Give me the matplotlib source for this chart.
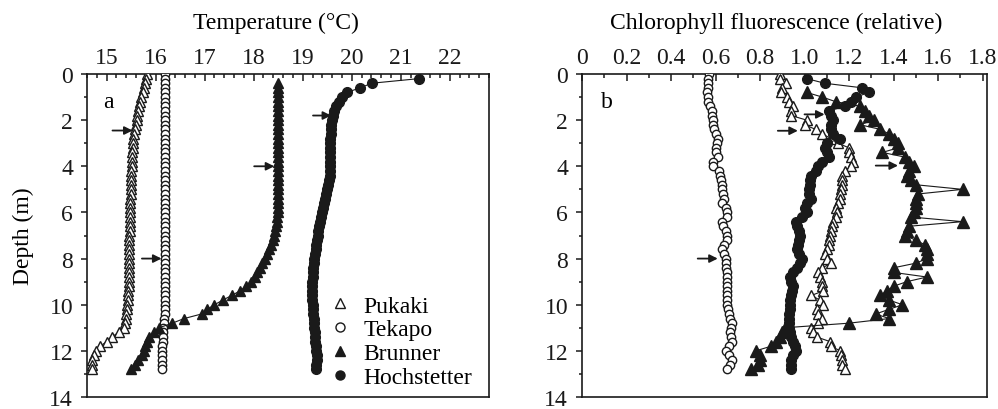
import matplotlib
matplotlib.use('Agg')
import matplotlib.pyplot as plt
import numpy as np
from matplotlib.lines import Line2D
from matplotlib.ticker import MultipleLocator, FixedLocator, FixedFormatter

plt.rcParams['font.family'] = ['Liberation Serif', 'DejaVu Serif']
plt.rcParams['font.size'] = 17

nan = np.nan
INK = '#1a1a1a'

# depth of each sample (m), shared by every profile
DEPTH = [0.0, 0.2, 0.4, 0.6, 0.8, 1.0, 1.2, 1.4, 1.6, 1.8,
         2.0, 2.2, 2.4, 2.6, 2.8, 3.0, 3.2, 3.4, 3.6, 3.8,
         4.0, 4.2, 4.4, 4.6, 4.8, 5.0, 5.2, 5.4, 5.6, 5.8,
         6.0, 6.2, 6.4, 6.6, 6.8, 7.0, 7.2, 7.4, 7.6, 7.8,
         8.0, 8.2, 8.4, 8.6, 8.8, 9.0, 9.2, 9.4, 9.6, 9.8,
         10.0, 10.2, 10.4, 10.6, 10.8, 11.0, 11.2, 11.4, 11.6, 11.8,
         12.0, 12.2, 12.4, 12.6, 12.8]

LAKES = ['Pukaki', 'Tekapo', 'Brunner', 'Hochstetter']

# ---- panel a: temperature (°C)
temp_pukaki = [15.83, 15.81, 15.79, 15.76, 15.74, 15.71, 15.69, 15.67, 15.65, 15.63,
               15.61, 15.59, 15.57, 15.55, 15.54, 15.53, 15.53, 15.52, 15.52, 15.51,
               15.51, 15.50, 15.50, 15.50, 15.49, 15.49, 15.49, 15.48, 15.48, 15.48,
               15.48, 15.47, 15.47, 15.47, 15.47, 15.46, 15.46, 15.46, 15.45, 15.45,
               15.46, 15.46, 15.46, 15.45, 15.45, 15.45, 15.45, 15.44, 15.44, 15.43,
               15.42, 15.41, 15.40, 15.39, 15.37, 15.35, 15.25, 15.10, 15.00, 14.87,
               14.78, 14.74, 14.71, 14.70, 14.70]
temp_tekapo = [16.20, 16.19, 16.19, 16.19, 16.19, 16.19, 16.19, 16.19, 16.19, 16.19,
               16.19, 16.19, 16.19, 16.19, 16.19, 16.19, 16.19, 16.19, 16.19, 16.19,
               16.19, 16.19, 16.19, 16.19, 16.19, 16.19, 16.19, 16.19, 16.19, 16.19,
               16.19, 16.19, 16.19, 16.19, 16.19, 16.19, 16.19, 16.19, 16.19, 16.19,
               16.19, 16.19, 16.19, 16.19, 16.19, 16.19, 16.19, 16.19, 16.19, 16.19,
               16.19, 16.19, 16.19, 16.18, 16.17, 16.16, 16.16, 16.15, 16.15, 16.14,
               16.14, 16.13, 16.13, 16.12, 16.12]
temp_brunner = [nan, nan, 18.50, 18.50, 18.50, 18.50, 18.50, 18.50, 18.50, 18.50,
                18.50, 18.50, 18.50, 18.50, 18.50, 18.50, 18.50, 18.50, 18.50, 18.50,
                18.50, 18.50, 18.50, 18.50, 18.50, 18.50, 18.50, 18.50, 18.49, 18.49,
                18.49, 18.48, 18.47, 18.46, 18.44, 18.42, 18.39, 18.36, 18.32, 18.28,
                18.23, 18.17, 18.12, 18.07, 18.02, 17.94, 17.85, 17.72, 17.55, 17.37,
                17.20, 17.05, 16.94, 16.58, 16.34, 16.07, 15.96, 15.87, 15.82, 15.79,
                15.76, 15.72, 15.65, 15.58, 15.50]
temp_hochstetter = [nan, 21.37, 20.41, 20.17, 19.90, 19.80, 19.74, 19.68, 19.64, 19.61,
                    19.59, 19.58, 19.57, 19.57, 19.56, 19.56, 19.56, 19.56, 19.56, 19.55,
                    19.55, 19.55, 19.55, 19.53, 19.52, 19.50, 19.48, 19.46, 19.44, 19.42,
                    19.40, 19.38, 19.36, 19.34, 19.32, 19.31, 19.30, 19.28, 19.27, 19.25,
                    19.24, 19.23, 19.22, 19.21, 19.20, 19.19, 19.18, 19.18, 19.18, 19.19,
                    19.20, 19.21, 19.22, 19.23, 19.24, 19.24, 19.25, 19.25, 19.26, 19.27,
                    19.28, 19.29, 19.29, 19.28, 19.27]

# ---- panel b: chlorophyll fluorescence (relative)
chl_pukaki = [0.89, 0.89, 0.915, 0.90, 0.895, 0.92, 0.93, 0.95, 0.94, 0.94,
              1.01, 1.00, 1.05, 1.08, 1.12, 1.15, 1.20, 1.20, 1.21, 1.22,
              1.21, 1.18, 1.17, 1.17, 1.17, 1.165, 1.16, 1.16, 1.15, 1.14,
              1.145, 1.14, 1.13, 1.125, 1.12, 1.115, 1.11, 1.11, 1.10, 1.09,
              1.10, 1.12, 1.08, 1.06, 1.07, 1.08, 1.08, 1.085, 1.03, 1.07,
              1.085, 1.055, 1.06, 1.08, 1.06, 1.03, 1.04, 1.055, 1.115, 1.12,
              1.16, 1.165, 1.17, 1.17, 1.18]
chl_tekapo = [0.57, 0.565, 0.565, 0.565, 0.56, 0.565, 0.565, 0.575, 0.585, 0.585,
              0.59, 0.59, 0.595, 0.60, 0.61, 0.605, 0.60, 0.60, 0.61, 0.59,
              0.59, 0.615, 0.62, 0.625, 0.63, 0.63, 0.635, 0.64, 0.63, 0.645,
              0.65, 0.653, 0.63, 0.635, 0.645, 0.65, 0.653, 0.64, 0.628, 0.64,
              0.646, 0.648, 0.648, 0.65, 0.65, 0.65, 0.65, 0.652, 0.653, 0.65,
              0.653, 0.655, 0.66, 0.665, 0.675, 0.67, 0.665, 0.668, 0.675, 0.66,
              0.646, 0.66, 0.675, 0.665, 0.653]
chl_brunner = [nan, nan, nan, nan, 1.01, 1.08, 1.14, 1.25, 1.27, 1.29,
               1.31, 1.25, 1.34, 1.38, 1.40, 1.42, 1.42, 1.35, 1.45, 1.47,
               1.49, 1.47, 1.46, 1.48, 1.50, 1.71, 1.51, 1.50, 1.50, 1.50,
               1.49, 1.48, 1.71, 1.47, 1.46, 1.45, 1.50, 1.54, 1.55, 1.55,
               1.55, 1.50, 1.40, 1.40, 1.55, 1.46, 1.40, 1.37, 1.34, 1.38,
               1.44, 1.38, 1.32, 1.38, 1.20, 0.91, 0.90, 0.89, 0.87, 0.85,
               0.78, 0.80, 0.80, 0.79, 0.76]
chl_hochstetter = [nan, 1.01, 1.09, 1.26, 1.29, 1.23, 1.21, 1.18, 1.11, 1.12,
                   1.13, 1.12, 1.12, 1.13, 1.16, 1.10, 1.09, 1.10, 1.11, 1.08,
                   1.06, 1.05, 1.03, 1.025, 1.025, 1.02, 1.02, 1.03, 1.01, 1.00,
                   1.01, 0.99, 0.96, 0.965, 0.975, 0.98, 0.975, 0.97, 0.966, 0.975,
                   0.99, 0.98, 0.966, 0.95, 0.936, 0.94, 0.95, 0.945, 0.94, 0.935,
                   0.936, 0.935, 0.93, 0.93, 0.93, 0.93, 0.935, 0.94, 0.95, 0.955,
                   0.96, 0.95, 0.94, 0.94, 0.94]

CHL_TICKS = [0, 0.2, 0.4, 0.6, 0.8, 1.0, 1.2, 1.4, 1.6, 1.8]
CHL_TICKLABELS = ['0', '0.2', '0.4', '0.6', '0.8', '1.0', '1.2', '1.4', '1.6', '1.8']

# arrows: (depth, tail x, head x)
ARROWS_A = [(2.45, 15.12, 15.53), (8.0, 15.72, 16.12), (4.0, 18.01, 18.42), (1.8, 19.21, 19.58)]
ARROWS_B = [(1.75, 1.00, 1.09), (2.46, 0.88, 0.97), (3.97, 1.32, 1.42), (8.0, 0.52, 0.61)]

STYLE = {'Pukaki': ('^', 'white'), 'Tekapo': ('o', 'white'),
         'Brunner': ('^', INK), 'Hochstetter': ('o', INK)}

fig = plt.figure(figsize=(9.98, 4.10), dpi=100)
ax1 = fig.add_axes([87 / 998, 1 - 398 / 410, 402 / 998, 323 / 410])
ax2 = fig.add_axes([582 / 998, 1 - 398 / 410, 405 / 998, 323 / 410])


def draw(ax, series, sizes):
    for name, vals in zip(LAKES, series):
        m, fc = STYLE[name]
        ax.plot(vals, DEPTH, color=INK, lw=0.8, marker=m, ms=sizes[name],
                mfc=fc, mec=INK, mew=1.0, zorder=3)


draw(ax1, [temp_pukaki, temp_tekapo, temp_brunner, temp_hochstetter],
     {'Pukaki': 7.0, 'Tekapo': 6.0, 'Brunner': 7.5, 'Hochstetter': 7.0})
draw(ax2, [chl_pukaki, chl_tekapo, chl_brunner, chl_hochstetter],
     {'Pukaki': 7.0, 'Tekapo': 6.0, 'Brunner': 8.2, 'Hochstetter': 7.0})

for ax, arrows in ((ax1, ARROWS_A), (ax2, ARROWS_B)):
    for d, x0, x1 in arrows:
        ax.annotate('', xy=(x1, d), xytext=(x0, d),
                    arrowprops=dict(arrowstyle='-|>', color=INK, lw=1.3,
                                    mutation_scale=12, shrinkA=0, shrinkB=0),
                    zorder=5)

for ax in (ax1, ax2):
    ax.set_ylim(14, 0)
    ax.yaxis.set_major_locator(MultipleLocator(2))
    ax.yaxis.set_minor_locator(MultipleLocator(1))
    ax.xaxis.tick_top()
    ax.xaxis.set_label_position('top')
    ax.tick_params(axis='x', which='both', direction='in', top=True, bottom=False,
                   pad=4, colors=INK)
    ax.tick_params(axis='x', which='major', length=5, width=1.1)
    ax.tick_params(axis='x', which='minor', length=3, width=1.1)
    ax.tick_params(axis='y', which='both', direction='out', left=True, right=False,
                   pad=6, colors=INK)
    ax.tick_params(axis='y', which='major', length=4, width=1.1)
    ax.tick_params(axis='y', which='minor', length=2.5, width=1.1)
    for s in ax.spines.values():
        s.set_linewidth(1.2)
        s.set_color(INK)

ax1.set_xlim(14.6, 22.8)
ax1.xaxis.set_major_locator(MultipleLocator(1))
ax1.xaxis.set_minor_locator(MultipleLocator(0.2))
ax1.set_xlabel('Temperature (°C)', labelpad=14)
ax1.xaxis.label.set_x(0.47)
ax1.set_ylabel('Depth (m)', labelpad=11)
ax1.text(0.052, 0.914, 'a', transform=ax1.transAxes, ha='center', va='center')

ax2.set_xlim(0, 1.82)
ax2.xaxis.set_major_locator(FixedLocator(CHL_TICKS))
ax2.xaxis.set_major_formatter(FixedFormatter(CHL_TICKLABELS))
ax2.xaxis.set_minor_locator(MultipleLocator(0.1))
ax2.set_xlabel('Chlorophyll fluorescence (relative)', labelpad=14)
ax2.xaxis.label.set_x(0.479)
ax2.text(0.061, 0.914, 'b', transform=ax2.transAxes, ha='center', va='center')

handles = [Line2D([], [], linestyle='none', marker=STYLE[n][0], ms=6.5,
                  mfc=STYLE[n][1], mec=INK, mew=1.0) for n in LAKES]
ax1.legend(handles, LAKES, loc='upper left', bbox_to_anchor=(328 / 998, 1 - 296 / 410),
           bbox_transform=fig.transFigure, frameon=False, handlelength=1.0,
           handletextpad=0.5, labelspacing=0.1, borderpad=0, borderaxespad=0)

fig.savefig('out.png', dpi=100)
